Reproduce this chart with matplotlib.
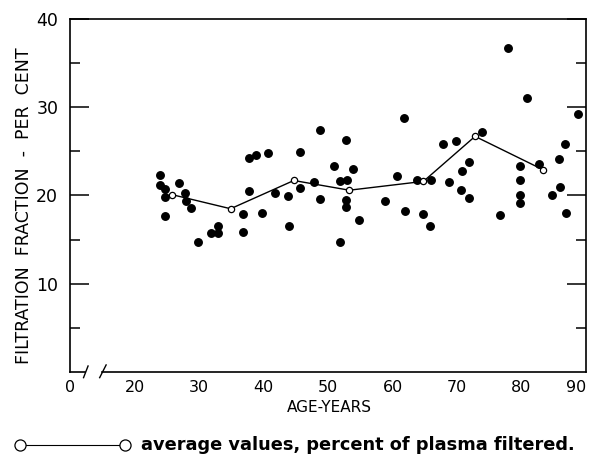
import matplotlib.pyplot as plt
from matplotlib.lines import Line2D

# individual subjects (age, filtration fraction %)
age = [23.9, 23.9, 24.8, 24.7, 24.8, 26.9, 27.8, 28.0, 28.8, 29.8,
       31.8, 32.9, 32.9, 36.8, 36.8, 37.8, 37.8, 38.9, 39.8, 40.7,
       41.8, 43.8, 43.9, 45.7, 45.7, 47.8, 48.8, 48.8, 50.9, 51.8,
       51.8, 52.8, 52.9, 52.8, 52.8, 53.8, 54.8, 58.9, 60.7, 61.8,
       61.9, 63.8, 64.8, 65.8, 65.9, 67.8, 68.8, 69.8, 70.6, 70.7,
       71.8, 71.8, 73.8, 76.7, 77.9, 79.8, 79.8, 79.8, 79.8, 80.8,
       82.7, 84.8, 85.8, 85.9, 86.8, 86.9, 88.7]
ff = [22.3, 21.2, 20.7, 19.8, 17.7, 21.4, 20.3, 19.4, 18.6, 14.7,
      15.7, 16.5, 15.7, 17.9, 15.9, 20.5, 24.3, 24.6, 18.0, 24.8,
      20.3, 19.9, 16.6, 24.9, 20.9, 21.5, 27.4, 19.6, 23.3, 21.6,
      14.7, 26.3, 21.7, 19.5, 18.7, 23.0, 17.2, 19.4, 22.2, 28.8,
      18.2, 21.7, 17.9, 16.5, 21.7, 25.8, 21.5, 26.2, 20.6, 22.8,
      23.75, 19.7, 27.2, 17.8, 36.7, 23.3, 21.8, 20.0, 19.1, 31.0,
      23.6, 20.1, 24.1, 21.0, 25.8, 18.0, 29.2]

# group averages
avg_age = [25.8, 34.9, 44.7, 53.3, 64.8, 72.8, 83.4]
avg_ff = [20.1, 18.5, 21.7, 20.6, 21.6, 26.7, 22.9]

xtick_pos = [10, 20, 30, 40, 50, 60, 70, 80, 90]
xtick_labels = ['0', '20', '30', '40', '50', '60', '70', '80', '90']
ytick_pos = [10, 20, 30, 40]

fig = plt.figure(figsize=(5.92, 4.57), dpi=100)
ax = fig.add_axes([70 / 592, 85 / 457, 516 / 592, 353 / 457])

ax.plot(age, ff, 'o', color='black', markersize=5.4, linestyle='none')
ax.plot(avg_age, avg_ff, '-o', color='black', lw=1.0, markersize=4.5,
        markerfacecolor='white', markeredgecolor='black', markeredgewidth=0.9)

ax.set_xlim(10, 90)
ax.set_ylim(0, 40)

for s in ax.spines.values():
    s.set_linewidth(1.2)
ax.spines['bottom'].set_bounds(14.9, 90)

# broken x axis near the origin
xt = ax.get_xaxis_transform()
ax.plot([10, 12.4], [0, 0], color='black', lw=1.2, transform=xt, clip_on=False)
ax.plot([12.1, 12.8], [-0.016, 0.017], color='black', lw=1.0, transform=xt, clip_on=False)
ax.plot([14.6, 15.6], [-0.016, 0.02], color='black', lw=1.0, transform=xt, clip_on=False)

ax.set_xticks(xtick_pos)
ax.set_xticklabels(xtick_labels, fontsize=11.5)
ax.get_xticklabels()[-1].set_horizontalalignment('right')
ax.set_xticks([20, 30, 40, 50, 60, 70, 80], minor=True)
ax.tick_params(axis='x', which='major', length=0, pad=5.5)
ax.tick_params(axis='x', which='minor', direction='in', length=8, width=1.1,
               top=True, bottom=True)

ax.set_yticks(ytick_pos)
ax.set_yticklabels([str(v) for v in ytick_pos], fontsize=12.5)
ax.set_yticks([5, 15, 25, 35], minor=True)
ax.tick_params(axis='y', which='major', direction='in', length=14, width=1.1,
               left=True, right=True, pad=8.5)
ax.tick_params(axis='y', which='minor', direction='in', length=7, width=1.1,
               left=True, right=True)

fig.text(24 / 592, 1 - 206 / 457, 'FILTRATION  FRACTION  -  PER  CENT',
         rotation=90, ha='center', va='center', fontsize=12.5)
fig.text(329 / 592, 1 - 408 / 457, 'AGE-YEARS', ha='center', va='center', fontsize=11)

# key below the chart
fig.add_artist(Line2D([20 / 592, 125 / 592], [12 / 457, 12 / 457], color='black', lw=0.8,
                      marker='o', markersize=8, markerfacecolor='white',
                      markeredgecolor='black', markeredgewidth=0.9))
fig.text(141 / 592, 12 / 457, 'average values, percent of plasma filtered.',
         ha='left', va='center', fontsize=12.8, fontweight='bold')

fig.savefig('out.png', dpi=100)
